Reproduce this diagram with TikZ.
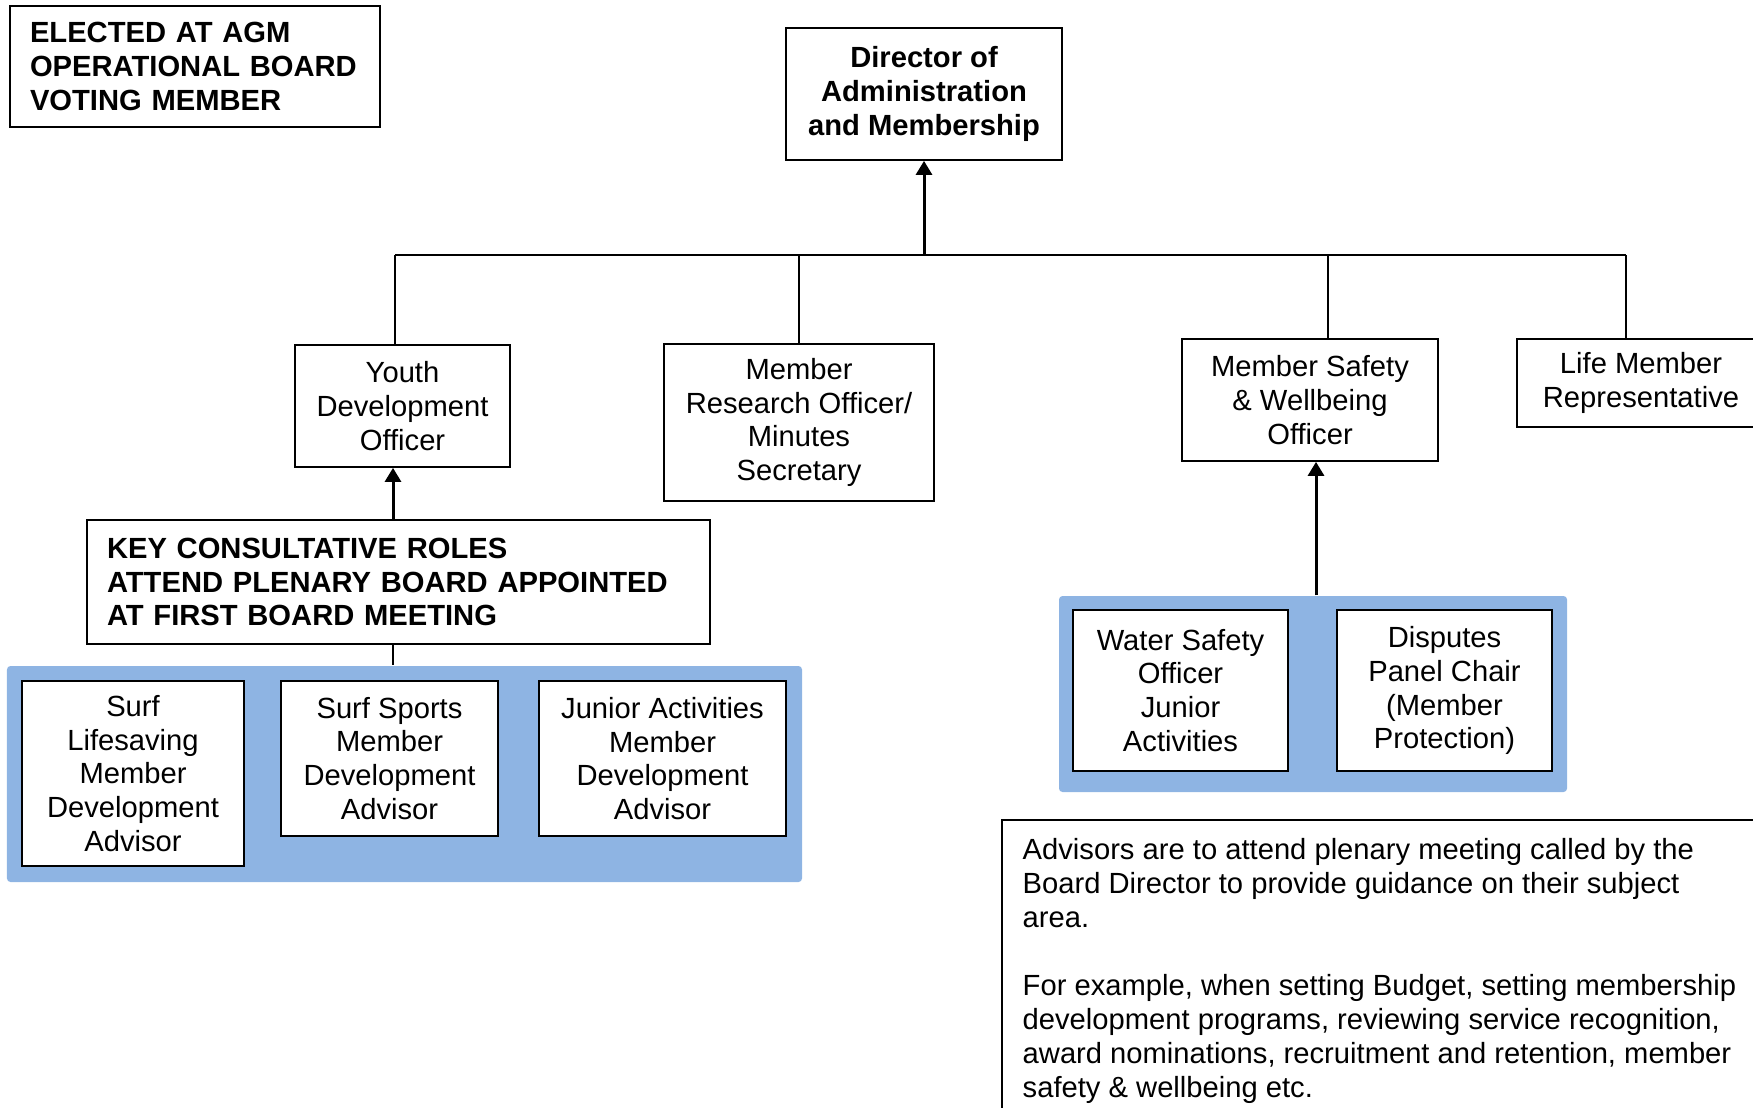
\documentclass[tikz,border=0pt]{standalone}
\usepackage{fontspec}
\setmainfont{Liberation Sans}
\usetikzlibrary{arrows.meta}
\definecolor{panelblue}{RGB}{142,180,227}
\tikzset{
    role/.style = {rectangle, draw=black, line width=0.5pt, fill=white, align=center, inner sep=0pt, font=\fontsize{8.3}{9.64}\selectfont},
    roleb/.style = {role, font=\fontsize{8.3}{9.64}\selectfont\bfseries},
    rolel/.style = {roleb, align=left, inner xsep=0.2cm},
    panel/.style = {rectangle, fill=panelblue, rounded corners=1pt, inner sep=0pt},
    notetext/.style = {align=left, inner xsep=0.2cm, inner ysep=0.18cm, font=\fontsize{8.3}{9.64}\selectfont},
    edgen/.style = {line width=0.5pt},
    edgea/.style = {-{Triangle[width=0.16cm,length=0.14cm]}, line width=0.85pt}, % reports to
}

\begin{document}
\begin{tikzpicture}
\useasboundingbox (0,0) rectangle (17.53,11.07);
% panels
\node[panel, minimum width=7.95cm, minimum height=2.16cm] at (4.045, 3.33) (lpanel) {};
\node[panel, minimum width=5.08cm, minimum height=1.96cm] at (13.13, 4.13) (rpanel) {};
%
\node[rolel, text width=3.30cm, minimum height=1.21cm] at (1.95, 10.405) (legend) {ELECTED AT AGM\\OPERATIONAL BOARD\\VOTING MEMBER};
\node[roleb, minimum width=2.76cm, minimum height=1.32cm] at (9.24, 10.13) (director) {Director of\\Administration\\and Membership};
\node[role, minimum width=2.15cm, minimum height=1.22cm] at (4.025, 7.01) (youth) {Youth\\Development\\Officer};
\node[role, minimum width=2.70cm, minimum height=1.57cm] at (7.99, 6.845) (research) {Member\\Research Officer/\\Minutes\\Secretary};
\node[role, minimum width=2.56cm, minimum height=1.22cm] at (13.10, 7.07) (safety) {Member Safety\\\& Wellbeing\\Officer};
\node[role, minimum width=2.48cm, minimum height=0.88cm] at (16.41, 7.24) (life) {Life Member\\Representative};
\node[rolel, text width=5.83cm, minimum height=1.24cm] at (3.985, 5.25) (key) {KEY CONSULTATIVE ROLES\\ATTEND PLENARY BOARD APPOINTED\\AT FIRST BOARD MEETING};
%
\node[role, minimum width=2.22cm, minimum height=1.85cm] at (1.33, 3.335) (lifesaving) {Surf\\Lifesaving\\Member\\Development\\Advisor};
\node[role, minimum width=2.17cm, minimum height=1.55cm] at (3.895, 3.485) (sports) {Surf Sports\\Member\\Development\\Advisor};
\node[role, minimum width=2.47cm, minimum height=1.55cm] at (6.625, 3.485) (junior) {Junior Activities\\Member\\Development\\Advisor};
\node[role, minimum width=2.15cm, minimum height=1.61cm] at (11.805, 4.165) (water) {Water Safety\\Officer\\Junior\\Activities};
\node[role, minimum width=2.15cm, minimum height=1.61cm] at (14.445, 4.165) (disputes) {Disputes\\Panel Chair\\(Member\\Protection)};
%
\node[notetext, anchor=north west] at (10.02, 2.87) (note) {Advisors are to attend plenary meeting called by the\\Board Director to provide guidance on their subject\\area.\\[0.34cm]For example, when setting Budget, setting membership\\development programs, reviewing service recognition,\\award nominations, recruitment and retention, member\\safety \& wellbeing etc.};
\draw[edgen] ([yshift=-1cm]note.south west) -- (note.north west) -- ++(8,0);
%
\coordinate (busL) at (3.95, 8.52);
\coordinate (busS) at (13.28, 8.52);
\coordinate (busR) at (16.26, 8.52);
\draw[edgen] (busL) -- (busR);
\draw[edgen] (busL) -- (busL |- youth.north);
\draw[edgen] (research.north |- busL) -- (research.north);
\draw[edgen] (busS) -- (busS |- safety.north);
\draw[edgen] (busR) -- (busR |- life.north);
\draw[edgea] (director.south |- busL) -- (director.south);
\draw[edgea] ([xshift=-0.055cm]key.north) -- ([xshift=-0.055cm]key.north |- youth.south);
\draw[edgen] ([xshift=-0.055cm]key.south) -- ([xshift=-0.055cm]key.south |- lpanel.north);
\draw[edgea] ([xshift=0.03cm]rpanel.north) -- ([xshift=0.03cm]rpanel.north |- safety.south);

\end{tikzpicture}
\end{document}
